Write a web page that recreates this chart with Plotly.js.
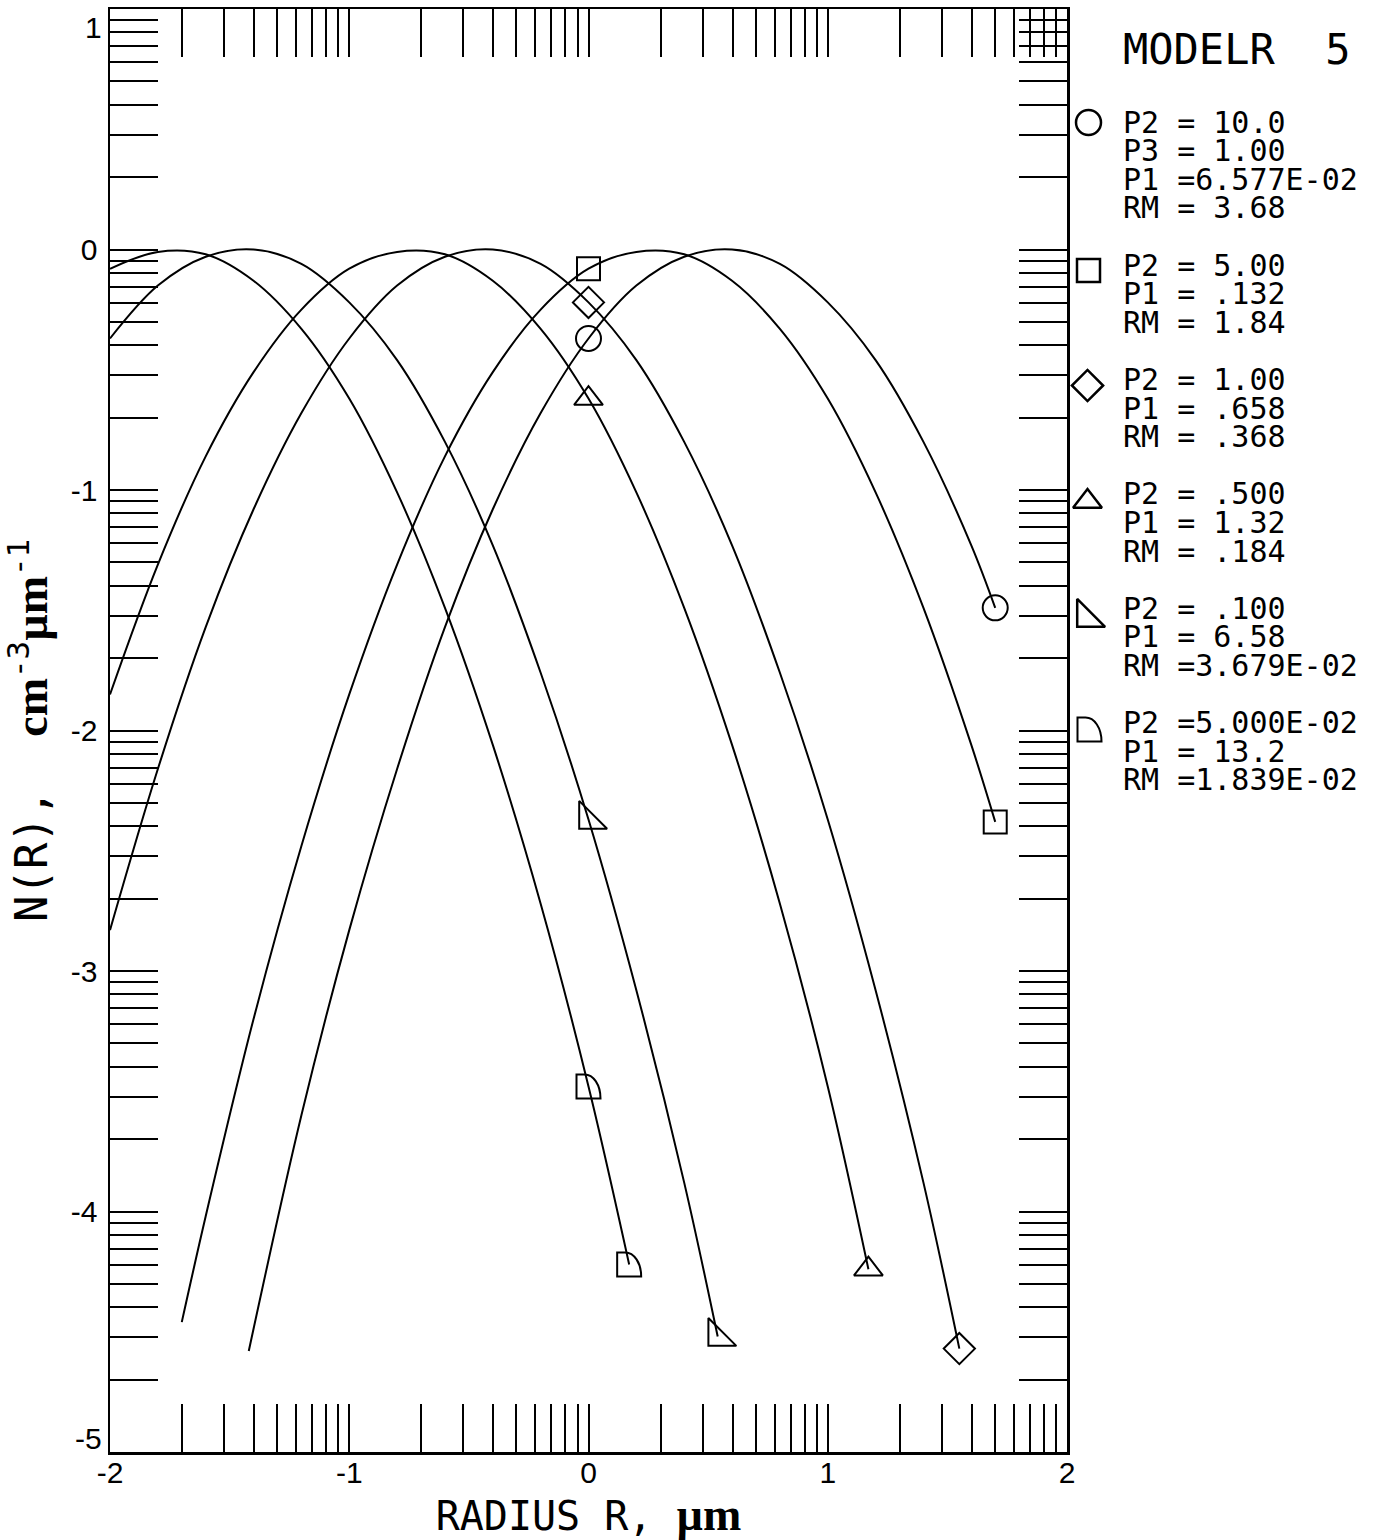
<!DOCTYPE html>
<html>
<head>
<meta charset="utf-8">
<script src="https://cdn.plot.ly/plotly-3.0.1.min.js"></script>
<style>html,body{margin:0;padding:0;background:#fff}</style>
</head>
<body>
<div id="chart" style="width:1384px;height:1540px"></div>
<script>
// ---------------- DATA ----------------
// x = log10 radius (um), y = log10 N(R)
const circleX   = [-1.42, -1.2, -1.0, -0.8, -0.6, -0.4, -0.2, 0, 0.2, 0.4, 0.6, 0.8, 1.0, 1.2, 1.4, 1.6, 1.70];
const circleY   = [-4.58, -3.60, -2.83, -2.16, -1.57, -1.08, -0.68, -0.37, -0.15, -0.03, 0, -0.06, -0.22, -0.46, -0.80, -1.23, -1.49];

const squareX   = [-1.70, -1.6, -1.4, -1.2, -1.0, -0.8, -0.6, -0.4, -0.2, 0, 0.2, 0.4, 0.6, 0.8, 1.0, 1.2, 1.4, 1.6, 1.70];
const squareY   = [-4.46, -4.02, -3.20, -2.48, -1.85, -1.31, -0.86, -0.51, -0.25, -0.08, -0.01, -0.02, -0.13, -0.33, -0.62, -1.01, -1.49, -2.06, -2.38];

const diamondX  = [-2, -1.8, -1.6, -1.4, -1.2, -1.0, -0.8, -0.6, -0.4, -0.2, 0, 0.2, 0.4, 0.6, 0.8, 1.0, 1.2, 1.4, 1.55];
const diamondY  = [-2.83, -2.16, -1.57, -1.08, -0.68, -0.37, -0.15, -0.03, 0, -0.06, -0.22, -0.46, -0.80, -1.23, -1.76, -2.37, -3.08, -3.88, -4.57];

const triangleX = [-2, -1.8, -1.6, -1.4, -1.2, -1.0, -0.8, -0.6, -0.4, -0.2, 0, 0.2, 0.4, 0.6, 0.8, 1.0, 1.17];
const triangleY = [-1.85, -1.31, -0.86, -0.51, -0.25, -0.08, -0.01, -0.02, -0.13, -0.33, -0.62, -1.01, -1.49, -2.06, -2.72, -3.48, -4.24];

const rightTriX = [-2, -1.8, -1.6, -1.4, -1.2, -1.0, -0.8, -0.6, -0.4, -0.2, 0, 0.2, 0.4, 0.54];
const rightTriY = [-0.37, -0.15, -0.03, 0, -0.06, -0.22, -0.46, -0.80, -1.23, -1.76, -2.37, -3.08, -3.88, -4.52];

const halfDX    = [-2, -1.8, -1.6, -1.4, -1.2, -1.0, -0.8, -0.6, -0.4, -0.2, 0, 0.17];
const halfDY    = [-0.08, -0.01, -0.02, -0.13, -0.33, -0.62, -1.01, -1.49, -2.06, -2.72, -3.48, -4.22];

const xTickLabels = ['-2', '-1', '0', '1', '2'];
const yTickLabels = ['-5', '-4', '-3', '-2', '-1', '0', '1'];

const legendTitle = 'MODELR  5';
const legendBlocks = [
  ['P2 = 10.0', 'P3 = 1.00', 'P1 =6.577E-02', 'RM = 3.68'],
  ['P2 = 5.00', 'P1 = .132', 'RM = 1.84'],
  ['P2 = 1.00', 'P1 = .658', 'RM = .368'],
  ['P2 = .500', 'P1 = 1.32', 'RM = .184'],
  ['P2 = .100', 'P1 = 6.58', 'RM =3.679E-02'],
  ['P2 =5.000E-02', 'P1 = 13.2', 'RM =1.839E-02']
];

// ---------------- STYLE / GEOMETRY ----------------
const MONO = 'DejaVu Sans Mono';
const SANS = 'Liberation Sans';
const SERIF = 'Liberation Serif';
const W = 1384, H = 1540;
const ML = 110, MT = 9, MB = 88;     // page margins (right margin 0: legend lives in its own panel)
const PLOT_RIGHT = 1067;             // right frame of the main plot, px
const AREA_W = W - ML;
const XR = [-2, 2], YR = [-5, 1];
const mainDomainX = [0, (PLOT_RIGHT - ML) / AREA_W];
const legDomainX = [(PLOT_RIGHT - ML) / AREA_W, 1];

const series = [
  {x: circleX,   y: circleY,   symbol: 'circle-open',      size: 25},
  {x: squareX,   y: squareY,   symbol: 'square-open',      size: 23},
  {x: diamondX,  y: diamondY,  symbol: 'diamond-open',     size: 24},
  {x: triangleX, y: triangleY, symbol: 'triangle-up-open', size: 25},
  {x: rightTriX, y: rightTriY, symbol: 'triangle-sw-open', size: 31},
  {x: halfDX,    y: halfDY,    symbol: null,               size: 25}
];

const D_PATH = 'M-12,-12 L-12,12 L-4,12 C5,12 12,1.5 12,-12 Z';

const traces = [];
const shapes = [];
series.forEach(s => {
  traces.push({x: s.x, y: s.y, mode: 'lines', type: 'scatter', xaxis: 'x', yaxis: 'y',
    line: {color: '#000', width: 2, shape: 'spline', smoothing: 1},
    hoverinfo: 'skip', showlegend: false});
  const i0 = s.x.indexOf(0), iN = s.x.length - 1;
  const mx = [s.x[i0], s.x[iN]], my = [s.y[i0], s.y[iN]];
  if (s.symbol) {
    traces.push({x: mx, y: my, mode: 'markers', type: 'scatter', xaxis: 'x', yaxis: 'y',
      marker: {symbol: s.symbol, size: s.size, color: '#000', line: {width: 2, color: '#000'}},
      hoverinfo: 'skip', showlegend: false});
  } else {
    mx.forEach((xv, k) => shapes.push({type: 'path', xref: 'x', yref: 'y',
      xsizemode: 'pixel', ysizemode: 'pixel', xanchor: xv, yanchor: my[k],
      path: D_PATH, line: {color: '#000', width: 2}, fillcolor: 'rgba(0,0,0,0)', layer: 'above'}));
  }
});

// ---------------- LEGEND PANEL (x2/y2 axes measured in page pixels) ----------------
const nb = s => s.replace(/ /g, '\u00a0');
const LINE0 = 122, STEP = 28.6, TEXT_PX = 1121;
const annotations = [];
annotations.push({xref: 'x2', yref: 'y2', x: TEXT_PX, y: 49,
  xanchor: 'left', yanchor: 'middle', showarrow: false, text: nb(legendTitle),
  font: {family: MONO, size: 42, color: '#000'}});
let k = 0;
const blockFirstLine = [];
legendBlocks.forEach(block => {
  blockFirstLine.push(LINE0 + STEP * k);
  block.forEach(line => {
    annotations.push({xref: 'x2', yref: 'y2', x: TEXT_PX, y: LINE0 + STEP * k,
      xanchor: 'left', yanchor: 'middle', showarrow: false, text: nb(line),
      font: {family: MONO, size: 30, color: '#000'}});
    k++;
  });
  k++; // blank line between blocks
});
const legendSymOffset = [[1088, 0], [1088, 5], [1087, 6], [1087, 7], [1086, 9], [1089, 6]];
const lgX = [], lgY = [], lgSym = [], lgSize = [];
series.forEach((s, i) => {
  const px = legendSymOffset[i][0] + 0.5, py = Math.round(blockFirstLine[i] + legendSymOffset[i][1]) + 0.5;
  if (s.symbol) {
    lgX.push(px); lgY.push(py); lgSym.push(s.symbol); lgSize.push(s.size);
  } else {
    shapes.push({type: 'path', xref: 'x2', yref: 'y2', xsizemode: 'pixel', ysizemode: 'pixel',
      xanchor: px, yanchor: py, path: D_PATH,
      line: {color: '#000', width: 2}, fillcolor: 'rgba(0,0,0,0)', layer: 'above'});
  }
});
traces.push({x: lgX, y: lgY, mode: 'markers', type: 'scatter', xaxis: 'x2', yaxis: 'y2',
  marker: {symbol: lgSym, size: lgSize, color: '#000', opacity: 1, line: {width: 2.5, color: '#000'}},
  hoverinfo: 'skip', showlegend: false});

// end labels of the y axis sit just inside the frame in the reference
annotations.push({xref: 'paper', yref: 'y', x: 0, y: YR[1], xanchor: 'right', yanchor: 'middle',
  xshift: -6, yshift: -18, showarrow: false, text: yTickLabels[yTickLabels.length - 1],
  font: {family: SANS, size: 30, color: '#000'}});
annotations.push({xref: 'paper', yref: 'y', x: 0, y: YR[0], xanchor: 'right', yanchor: 'middle',
  xshift: -6, yshift: 14, showarrow: false, text: yTickLabels[0],
  font: {family: SANS, size: 30, color: '#000'}});

// ---------------- TICKS (log-cycle tick marks on linear log10 axes) ----------------
function logTicks(lo, hi) {
  const v = [];
  for (let n = lo; n < hi; n++) for (let m = 1; m <= 9; m++) v.push(n + Math.log10(m));
  v.push(hi);
  return v;
}
function tickText(vals, labels, lo, skipEnds) {
  return vals.map(v => {
    if (Math.abs(v - Math.round(v)) > 1e-9) return '';
    const i = Math.round(v) - lo;
    if (skipEnds && (i === 0 || i === labels.length - 1)) return '';
    return labels[i];
  });
}
const xTickVals = logTicks(XR[0], XR[1]);
const yTickVals = logTicks(YR[0], YR[1]);

const axisCommon = {
  autorange: false, tickmode: 'array', ticks: 'inside', ticklen: 48, tickwidth: 2, tickcolor: '#000',
  showline: true, linewidth: 2.5, linecolor: '#000', mirror: 'ticks', showgrid: false, zeroline: false,
  tickfont: {family: SANS, size: 30, color: '#000'}, fixedrange: true
};

const serifSpan = t => '<span style="font-family:\'' + SERIF + '\';font-weight:bold;font-size:46px">' + t + '</span>';

const layout = {
  width: W, height: H,
  margin: {l: ML, r: 0, t: MT, b: MB, pad: 0},
  paper_bgcolor: '#fff', plot_bgcolor: 'rgba(0,0,0,0)',
  showlegend: false,
  xaxis: Object.assign({}, axisCommon, {
    domain: mainDomainX, anchor: 'y',
    range: XR, tickvals: xTickVals, ticktext: tickText(xTickVals, xTickLabels, XR[0], false),
    ticklabelstandoff: -8,
    title: {text: 'RADIUS R, ' + serifSpan('\u00b5m'), font: {family: MONO, size: 40, color: '#000'}, standoff: 16}
  }),
  yaxis: Object.assign({}, axisCommon, {
    domain: [0, 1], anchor: 'x',
    range: YR, tickvals: yTickVals, ticktext: tickText(yTickVals, yTickLabels, YR[0], true),
    ticklabelstandoff: 4,
    title: {text: 'N(R),\u00a0\u00a0' + serifSpan('cm') + '<sup>-3</sup>' + serifSpan('\u00b5m') + '<sup>-1</sup>',
      font: {family: MONO, size: 44, color: '#000'}, standoff: 12}
  }),
  xaxis2: {domain: legDomainX, anchor: 'y2', range: [PLOT_RIGHT, W], visible: false, fixedrange: true},
  yaxis2: {domain: [0, 1], anchor: 'x2', range: [H - MB, MT], visible: false, fixedrange: true},
  annotations: annotations,
  shapes: shapes
};

Plotly.newPlot('chart', traces, layout, {staticPlot: true, displayModeBar: false});
</script>
</body>
</html>
